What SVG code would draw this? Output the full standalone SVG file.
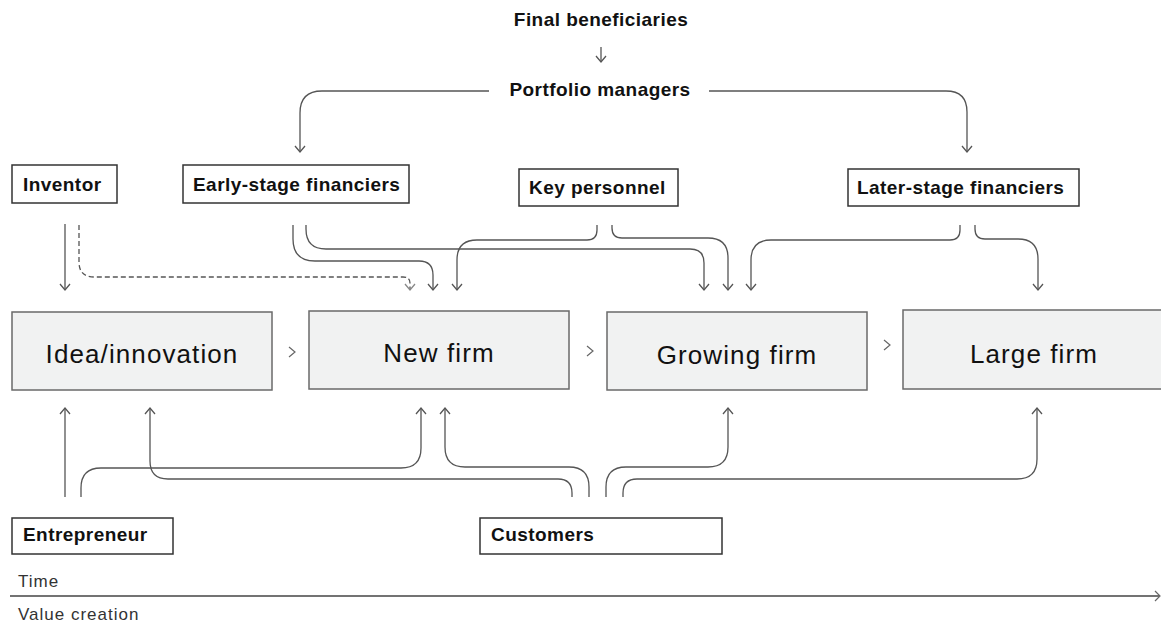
<svg xmlns="http://www.w3.org/2000/svg" width="1161" height="624" viewBox="0 0 1161 624">
<style>
.lbl{font-family:"Liberation Sans",Arial,sans-serif;font-weight:bold;font-size:19px;letter-spacing:0.45px;fill:#111}
.stage{font-family:"Liberation Sans",Arial,sans-serif;font-size:26px;letter-spacing:1.1px;fill:#111}
.axis{font-family:"Liberation Sans",Arial,sans-serif;font-size:17px;letter-spacing:1px;fill:#333}
.nbox{fill:#fff;stroke:#333;stroke-width:1.5}
.sbox{fill:#f1f2f2;stroke:#6a6a6a;stroke-width:1.5}
.con{fill:none;stroke:#555;stroke-width:1.3}
.dash{fill:none;stroke:#555;stroke-width:1.3;stroke-dasharray:5,3}
.chev{fill:none;stroke:#666;stroke-width:1.2}
</style>
<defs>
<marker id="ah" markerUnits="userSpaceOnUse" markerWidth="14" markerHeight="14" refX="0" refY="0" orient="auto" overflow="visible">
<path d="M-6,-5 L0,0 L-6,5" fill="none" stroke="#555" stroke-width="1.3"/>
</marker>
<marker id="ahd" markerUnits="userSpaceOnUse" markerWidth="14" markerHeight="14" refX="0" refY="0" orient="auto" overflow="visible">
<path d="M-6,-5 L0,0 L-6,5" fill="none" stroke="#888" stroke-width="1.3"/>
</marker>
</defs>

<g id="final-beneficiaries"><text class="lbl" x="601" y="26" text-anchor="middle">Final beneficiaries</text></g>
<g id="portfolio-managers"><text class="lbl" x="600" y="96" text-anchor="middle">Portfolio managers</text></g>

<g id="inventor"><rect class="nbox" x="12" y="165" width="105" height="38"/><text class="lbl" x="23" y="191">Inventor</text></g>
<g id="early-stage-financiers"><rect class="nbox" x="183" y="165" width="226" height="38"/><text class="lbl" x="193" y="191">Early-stage financiers</text></g>
<g id="key-personnel"><rect class="nbox" x="519" y="169" width="159" height="37"/><text class="lbl" x="529" y="194">Key personnel</text></g>
<g id="later-stage-financiers"><rect class="nbox" x="848" y="169" width="231" height="37"/><text class="lbl" x="857" y="194">Later-stage financiers</text></g>

<g id="idea-innovation"><rect class="sbox" x="12" y="312" width="260" height="78"/><text class="stage" x="142" y="363" text-anchor="middle">Idea/innovation</text></g>
<g id="new-firm"><rect class="sbox" x="309" y="311" width="260" height="78"/><text class="stage" x="439" y="362" text-anchor="middle">New firm</text></g>
<g id="growing-firm"><rect class="sbox" x="607" y="312" width="260" height="78"/><text class="stage" x="737" y="364" text-anchor="middle">Growing firm</text></g>
<g id="large-firm"><rect class="sbox" x="903" y="310" width="262" height="79"/><text class="stage" x="1034" y="363" text-anchor="middle">Large firm</text></g>

<g id="entrepreneur"><rect class="nbox" x="12" y="518" width="161" height="36"/><text class="lbl" x="23" y="541">Entrepreneur</text></g>
<g id="customers"><rect class="nbox" x="480" y="518" width="242" height="36"/><text class="lbl" x="491" y="541">Customers</text></g>

<g id="time-axis">
<text class="axis" x="18" y="587">Time</text>
<text class="axis" x="18" y="620">Value creation</text>
<line x1="10" y1="596" x2="1159" y2="596" stroke="#444" stroke-width="1.5"/>
<path class="chev" d="M1155,591 L1160,596 L1155,601"/>
</g>

<g id="chevrons">
<path class="chev" d="M289,347 L295,352 L289,357"/>
<path class="chev" d="M587,346 L593,351 L587,356"/>
<path class="chev" d="M884,340 L890,345 L884,350"/>
</g>

<g id="connectors">
<path class="con" d="M601,47 V62" marker-end="url(#ah)"/>
<path class="con" d="M489,91 H322 Q300,91 300,113 V152" marker-end="url(#ah)"/>
<path class="con" d="M709,91 H946 Q967,91 967,112 V152" marker-end="url(#ah)"/>
<path class="con" d="M65,224 V290" marker-end="url(#ah)"/>
<path class="dash" d="M79,225 V262 Q79,277 94,277 H403 Q410,277 410,283 V290" marker-end="url(#ahd)"/>
<path class="con" d="M293,225 V239 Q293,261 315,261 H419 Q433,261 433,275 V290" marker-end="url(#ah)"/>
<path class="con" d="M306,225 V229 Q306,249 326,249 H690 Q704,249 704,263 V290" marker-end="url(#ah)"/>
<path class="con" d="M597,225 V230 Q597,240 587,240 H477 Q457,240 457,260 V290" marker-end="url(#ah)"/>
<path class="con" d="M612,225 V228 Q612,238 622,238 H708 Q728,238 728,258 V290" marker-end="url(#ah)"/>
<path class="con" d="M960,225 V230 Q960,240 950,240 H771 Q751,240 751,260 V290" marker-end="url(#ah)"/>
<path class="con" d="M975,225 V229 Q975,239 985,239 H1018 Q1038,239 1038,259 V290" marker-end="url(#ah)"/>
<path class="con" d="M65,497 V408" marker-end="url(#ah)"/>
<path class="con" d="M81,497 V488 Q81,468 101,468 H401 Q421,468 421,448 V408" marker-end="url(#ah)"/>
<path class="con" d="M572,497 V493 Q572,479 558,479 H168 Q150,479 150,461 V408" marker-end="url(#ah)"/>
<path class="con" d="M589,497 V487 Q589,467 569,467 H465 Q445,467 445,447 V408" marker-end="url(#ah)"/>
<path class="con" d="M606,497 V487 Q606,467 626,467 H708 Q728,467 728,447 V408" marker-end="url(#ah)"/>
<path class="con" d="M623,497 V493 Q623,479 637,479 H1017 Q1037,479 1037,459 V408" marker-end="url(#ah)"/>
</g>
</svg>
